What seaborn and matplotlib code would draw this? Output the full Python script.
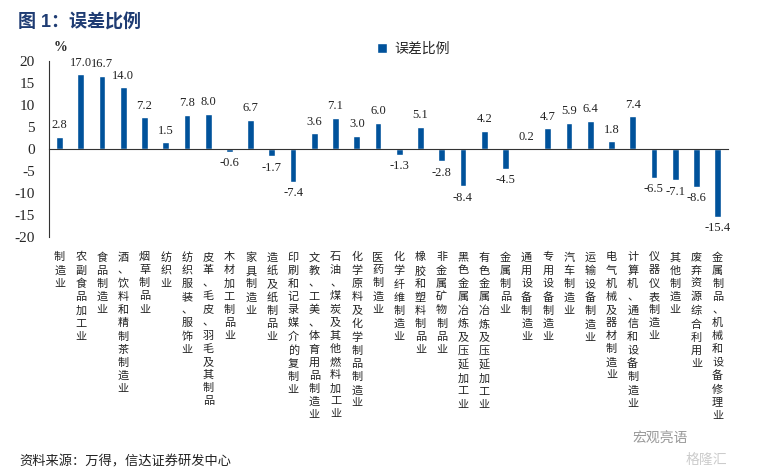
import numpy as np
import pandas as pd
import matplotlib
matplotlib.use("Agg")
import matplotlib.pyplot as plt
import seaborn as sns

# 数据
industries = [
    "制造业", "农副食品加工业", "食品制造业", "酒、饮料和精制茶制造业", "烟草制品业",
    "纺织业", "纺织服装、服饰业", "皮革、毛皮、羽毛及其制品", "木材加工制品业", "家具制造业",
    "造纸及纸制品业", "印刷和记录媒介的复制业", "文教、工美、体育用品制造业",
    "石油、煤炭及其他燃料加工业", "化学原料及化学制品制造业", "医药制造业", "化学纤维制造业",
    "橡胶和塑料制品业", "非金属矿物制品业", "黑色金属冶炼及压延加工业", "有色金属冶炼及压延加工业",
    "金属制品业", "通用设备制造业", "专用设备制造业", "汽车制造业", "运输设备制造业",
    "电气机械及器材制造业", "计算机、通信和设备制造业", "仪器仪表制造业", "其他制造业",
    "废弃资源综合利用业", "金属制品、机械和设备修理业",
]
error_pct = [
    2.8, 17.0, 16.7, 14.0, 7.2, 1.5, 7.8, 8.0, -0.6, 6.7,
    -1.7, -7.4, 3.6, 7.1, 3.0, 6.0, -1.3, 5.1, -2.8, -8.4,
    4.2, -4.5, 0.2, 4.7, 5.9, 6.4, 1.8, 7.4, -6.5, -7.1,
    -8.6, -15.4,
]
y_ticks = [-20, -15, -10, -5, 0, 5, 10, 15, 20]

bar_color = "#00529B"
title_color = "#1F3C73"

sns.set_style("white")
plt.rcParams["font.family"] = ["Liberation Serif", "Noto Sans CJK SC", "DejaVu Sans"]

df = pd.DataFrame({"industry": industries, "value": error_pct})

fig = plt.figure(figsize=(7.57, 4.73), dpi=100)
ax = fig.add_axes([0.0647, 0.499, 0.8973, 0.372])

sns.barplot(data=df, x="industry", y="value", color=bar_color, width=0.32,
            saturation=1, label="误差比例", ax=ax)

n = len(industries)
ax.set_xlim(-0.5, n - 0.5)
ax.set_ylim(-20, 20)
ax.set_yticks(y_ticks)
ax.set_yticklabels([str(t) for t in y_ticks], fontsize=11, family="Liberation Serif")
ax.set_xlabel("")
ax.set_ylabel("")

# x轴放在0位置，刻度在类别之间
ax.spines["top"].set_visible(False)
ax.spines["right"].set_visible(False)
ax.spines["bottom"].set_position(("data", 0))
ax.spines["bottom"].set_color("#333333")
ax.spines["left"].set_color("#333333")
ax.set_xticks(np.arange(-0.5, n, 1), minor=True)
ax.tick_params(axis="x", which="major", length=0, labelbottom=False)
ax.tick_params(axis="x", which="minor", length=4, direction="out", color="#333333")
ax.tick_params(axis="y", length=4, direction="out", color="#333333", pad=6)

# 数值标签
for i, v in enumerate(error_pct):
    ax.annotate(f"{v:.1f}", xy=(i, v), xytext=(0, 4 if v >= 0 else -4),
                textcoords="offset points", ha="center",
                va="bottom" if v >= 0 else "top", fontsize=9,
                family="Liberation Serif", color="#222222")

# 竖排行业名称
for i, name in enumerate(industries):
    ax.annotate("\n".join(name), xy=(i, 0), xycoords=("data", "axes fraction"),
                xytext=(0, -11), textcoords="offset points", ha="center", va="top",
                fontsize=8, family="Noto Sans CJK SC", linespacing=1.38, color="#222222")

# 图例
ax.legend(loc="center left", bbox_to_anchor=(0.482, 0.896), bbox_transform=fig.transFigure,
          frameon=False, handlelength=0.7, handleheight=0.7,
          handletextpad=0.5, prop={"family": "Noto Sans CJK SC", "size": 10})

fig.text(0.08, 0.9, "%", fontsize=10, fontweight="bold", ha="center", va="center",
         family="Liberation Serif")
fig.text(0.024, 0.955, "图 1：误差比例", fontsize=13, fontweight="bold", color=title_color,
         ha="left", va="center", family=["Liberation Sans", "Noto Sans CJK SC"])
fig.text(0.025, 0.023, "资料来源：万得，信达证券研发中心", fontsize=9.5, style="italic",
         ha="left", va="center", color="#222222", family="Noto Sans CJK SC")

# 水印
fig.text(0.835, 0.072, "宏观亮语", fontsize=10, color="#999999", ha="left", va="center",
         family="Noto Sans CJK SC")
fig.text(0.905, 0.028, "格隆汇", fontsize=10, color="#cccccc", ha="left", va="center",
         family="Noto Sans CJK SC")

fig.savefig("out.png", dpi=100)
